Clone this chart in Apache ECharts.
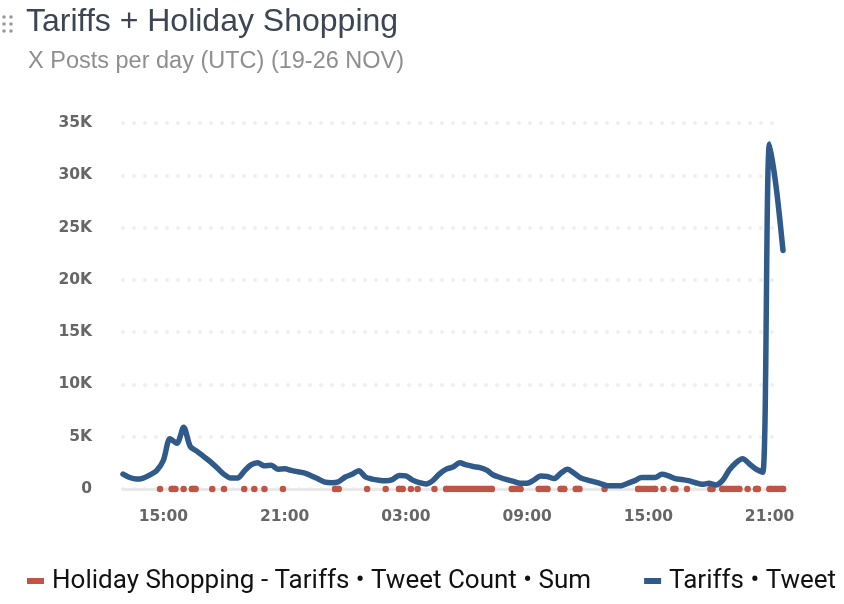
<!DOCTYPE html>
<html>
<head>
<meta charset="utf-8">
<script src="https://cdn.jsdelivr.net/npm/echarts@6/dist/echarts.min.js"></script>
<style>
  html, body { margin: 0; padding: 0; background: #fff; }
  #chart { width: 844px; height: 604px; }
</style>
</head>
<body>
<div id="chart"></div>
<script>
// Tariffs series: one value every 20 minutes, first one at 13:00 on day 1 (25 NOV)
var tariffsStartHour = 13;
var tariffsStepMin = 20;
var tariffsCounts = [
  1430, 1100, 950, 1050, 1350, 1750, 2750, 4800, 4370, 5900,
  4050, 3600, 3100, 2600, 2000, 1400, 1050, 1050, 1700, 2300,
  2500, 2220, 2280, 1900, 1930, 1780, 1650, 1520, 1250, 950,
  650, 600, 700, 1150, 1400, 1750, 1150, 950, 840, 780,
  900, 1300, 1250, 850, 600, 480, 800, 1450, 1900, 2100,
  2500, 2300, 2150, 2050, 1800, 1340, 1100, 900, 720, 550,
  550, 850, 1240, 1200, 1000, 1500, 1900, 1500, 1050, 850,
  680, 500, 300, 300, 320, 550, 800, 1100, 1100, 1100,
  1400, 1250, 1000, 900, 800, 600, 450, 540, 380, 800,
  1800, 2500, 2900, 2400, 1900, 1600, 33000, 28800, 22800
];

// Holiday Shopping - Tariffs: runs of (near) zero counts, [from, to]
var holidayRuns = [
  ['25 14:50', '25 14:50'], ['25 15:25', '25 15:35'], ['25 16:00', '25 16:00'],
  ['25 16:25', '25 16:35'], ['25 17:25', '25 17:25'], ['25 18:00', '25 18:00'],
  ['25 19:00', '25 19:00'], ['25 19:30', '25 19:30'], ['25 20:00', '25 20:00'],
  ['25 20:55', '25 20:55'], ['25 23:30', '25 23:40'], ['26 01:05', '26 01:05'],
  ['26 02:00', '26 02:00'], ['26 02:40', '26 02:50'], ['26 03:15', '26 03:15'],
  ['26 03:35', '26 03:35'], ['26 04:25', '26 04:25'], ['26 05:00', '26 07:15'],
  ['26 08:15', '26 08:40'], ['26 09:35', '26 10:00'], ['26 10:40', '26 10:50'],
  ['26 11:25', '26 11:35'], ['26 12:50', '26 12:50'], ['26 14:30', '26 15:20'],
  ['26 15:45', '26 15:45'], ['26 16:15', '26 16:20'], ['26 16:55', '26 16:55'],
  ['26 18:05', '26 18:10'], ['26 18:40', '26 19:30'], ['26 19:55', '26 19:55'],
  ['26 20:20', '26 20:25'], ['26 21:00', '26 21:40']
];

var xTickHours = [15, 21, 27, 33, 39, 45];
var xTickLabels = ['15:00', '21:00', '03:00', '09:00', '15:00', '21:00'];

var holidayName = 'Holiday Shopping - Tariffs • Tweet Count • Sum';
var tariffsName = 'Tariffs • Tweet Count • Sum';
var red = '#c05545';
var blue = '#2f5a8a';

// "25 14:50" -> hours since 25 NOV 00:00
function toHours(s) {
  var day = parseInt(s.slice(0, 2), 10) - 25;
  var hm = s.slice(3).split(':');
  return day * 24 + parseInt(hm[0], 10) + parseInt(hm[1], 10) / 60;
}

var tariffsData = tariffsCounts.map(function (v, i) {
  return [tariffsStartHour + i * tariffsStepMin / 60, v];
});

var holidayData = [];
holidayRuns.forEach(function (r) {
  var s = toHours(r[0]), e = toHours(r[1]);
  holidayData.push([s, 0]);
  if (e > s) holidayData.push([e, 0]);
  holidayData.push([e, '-']);
});

var xMax = tariffsData[tariffsData.length - 1][0];

var chart = echarts.init(document.getElementById('chart'));
chart.setOption({
  animation: false,
  backgroundColor: '#fff',
  title: [
    {
      text: 'Tariffs + Holiday Shopping',
      left: 21, top: 1,
      textStyle: { fontFamily: 'Liberation Sans', fontSize: 32, fontWeight: 'normal', color: '#3d4554' }
    },
    {
      text: 'X Posts per day (UTC) (19-26 NOV)',
      left: 23, top: 45,
      textStyle: { fontFamily: 'Liberation Sans', fontSize: 23.5, fontWeight: 'normal', color: '#8e8e8e' }
    }
  ],
  graphic: [
    { type: 'circle', shape: { cx: 4, cy: 17, r: 1.8 }, style: { fill: '#9a9a9a' } },
    { type: 'circle', shape: { cx: 11, cy: 17, r: 1.8 }, style: { fill: '#9a9a9a' } },
    { type: 'circle', shape: { cx: 4, cy: 24, r: 1.8 }, style: { fill: '#9a9a9a' } },
    { type: 'circle', shape: { cx: 11, cy: 24, r: 1.8 }, style: { fill: '#9a9a9a' } },
    { type: 'circle', shape: { cx: 4, cy: 31, r: 1.8 }, style: { fill: '#9a9a9a' } },
    { type: 'circle', shape: { cx: 11, cy: 31, r: 1.8 }, style: { fill: '#9a9a9a' } }
  ],
  legend: {
    left: 27, top: 568,
    padding: 0,
    width: 2000,
    icon: 'rect',
    itemWidth: 17, itemHeight: 6,
    itemGap: 53,
    data: [holidayName, tariffsName],
    textStyle: { fontFamily: 'Roboto', fontSize: 26, color: '#111', padding: [0, 0, 0, 3] }
  },
  grid: { left: 123, right: 61, top: 123, bottom: 115 },
  xAxis: {
    type: 'value',
    min: tariffsStartHour,
    max: xMax,
    axisTick: { show: false },
    splitLine: { show: false },
    axisLine: { show: true, lineStyle: { color: '#e9e9e9', width: 3 } },
    axisLabel: {
      customValues: xTickHours,
      margin: 20,
      fontFamily: 'DejaVu Sans',
      fontSize: 15.5,
      fontWeight: 'bold',
      color: '#666',
      formatter: function (v) {
        var i = xTickHours.indexOf(v);
        return i >= 0 ? xTickLabels[i] : '';
      }
    }
  },
  yAxis: {
    type: 'value',
    min: 0, max: 35000, interval: 5000,
    axisLine: { show: false },
    axisTick: { show: false },
    splitLine: {
      lineStyle: { color: '#efefef', width: 4, type: [0, 11], cap: 'round' }
    },
    axisLabel: {
      margin: 31,
      fontFamily: 'DejaVu Sans',
      fontSize: 15.5,
      fontWeight: 'bold',
      color: '#666',
      formatter: function (v) { return v === 0 ? '0' : (v / 1000) + 'K'; }
    }
  },
  series: [
    {
      name: holidayName,
      type: 'line',
      data: holidayData,
      connectNulls: false,
      showSymbol: true,
      showAllSymbol: true,
      symbol: 'circle',
      symbolSize: 6.5,
      itemStyle: { color: red },
      lineStyle: { color: red, width: 6.5, cap: 'round' },
      z: 2
    },
    {
      name: tariffsName,
      type: 'line',
      data: tariffsData,
      smooth: 0.3,
      showSymbol: false,
      itemStyle: { color: blue },
      lineStyle: { color: blue, width: 5.5, cap: 'round', join: 'round' },
      z: 3
    }
  ]
});
</script>
</body>
</html>
